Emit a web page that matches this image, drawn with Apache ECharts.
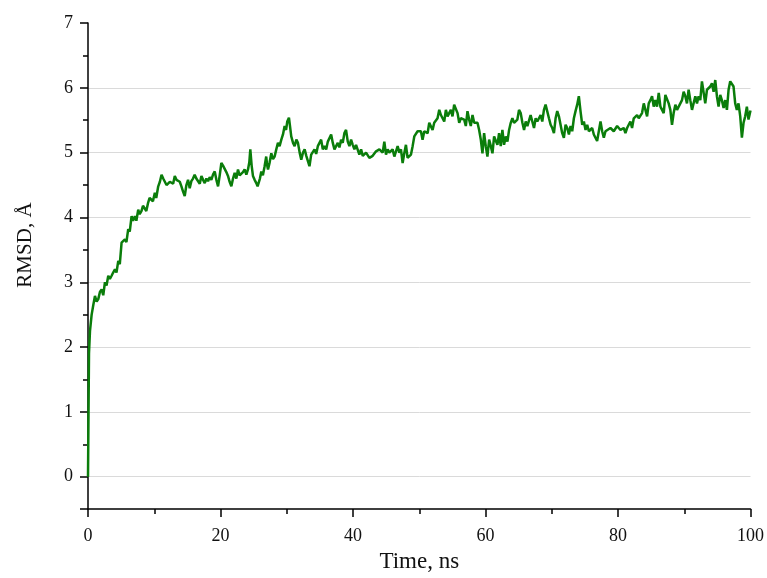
<!DOCTYPE html>
<html>
<head>
<meta charset="utf-8">
<script src="https://cdn.jsdelivr.net/npm/echarts@6/dist/echarts.min.js"></script>
<style>html,body{margin:0;padding:0;background:#fff;}#c{width:767px;height:578px;}</style>
</head>
<body>
<div id="c"></div>
<script>
const time = [0,0.15,0.3,0.55,0.8,1.05,1.3,1.55,1.8,2.06,2.3,2.56,2.8,3.06,3.3,3.56,3.8,4.07,4.3,4.57,4.8,5.07,5.3,5.57,5.8,6.07,6.3,6.58,6.8,7.08,7.3,7.58,7.8,8.08,8.3,8.58,8.8,9.08,9.3,9.59,9.8,10.09,10.3,10.6,10.85,11.1,11.35,11.6,11.85,12.1,12.35,12.6,12.85,13.1,13.35,13.6,13.85,14.1,14.35,14.6,14.85,15.1,15.35,15.6,15.85,16.1,16.35,
16.62,16.87,17.12,17.37,17.62,17.87,18.12,18.37,18.62,18.87,19.13,19.38,19.63,19.88,20.13,20.38,20.63,20.88,21.13,21.38,21.64,21.89,22.14,22.39,22.64,22.89,23.14,23.39,23.64,23.9,24.15,24.35,24.5,24.7,24.9,25.15,25.4,25.6,25.76,25.95,26.16,26.4,26.66,26.9,27.05,27.17,27.42,27.67,27.92,28.17,28.42,28.67,28.92,29.18,29.43,29.68,29.9,30.08,30.33,30.5,30.68,30.95,31.19,31.45,31.69,31.95,32.19,32.45,32.7,32.95,
33.18,33.43,33.69,33.94,34.19,34.44,34.69,34.94,35.19,35.44,35.69,35.95,36.2,36.45,36.7,36.95,37.2,37.45,37.7,37.95,38.2,38.45,38.7,38.95,39.21,39.46,39.71,39.96,40.21,40.46,40.71,40.96,41.22,41.47,41.72,41.97,42.22,42.47,42.72,42.97,43.22,43.48,43.73,43.98,44.23,44.48,44.73,44.98,45.23,45.48,45.73,45.98,46.24,46.49,46.74,46.99,47.24,47.49,47.74,47.99,48.24,48.49,48.75,49.0,49.25,49.5,49.75,
50.0,50.25,50.5,50.76,51.26,51.51,51.76,52.01,52.26,52.76,53.02,53.27,53.77,54.02,54.27,54.77,55.02,55.27,55.53,55.78,56.03,56.28,56.78,57.03,57.28,57.53,57.78,58.04,58.29,58.79,59.04,59.29,59.54,59.79,60.04,60.29,60.55,60.8,61.05,61.3,61.8,62.05,62.3,62.55,62.8,63.06,63.31,63.56,63.81,64.06,64.31,64.81,65.06,65.31,65.57,65.82,66.07,66.32,
66.81,67.32,67.57,67.82,68.32,68.57,68.82,69.07,69.32,69.58,69.83,70.08,70.33,70.58,70.83,71.08,71.33,71.58,71.83,72.09,72.34,72.59,72.84,73.09,73.34,73.59,73.84,74.09,74.34,74.6,74.85,75.1,75.35,75.6,75.85,76.1,76.35,76.6,76.85,77.1,77.36,77.61,77.86,78.11,78.36,78.86,79.36,79.87,80.12,80.37,80.87,81.12,81.37,81.62,81.87,82.12,82.38,82.88,
83.13,83.38,83.63,83.89,84.14,84.39,84.64,84.89,85.14,85.39,85.64,85.89,86.15,86.4,86.65,86.9,87.15,87.4,87.65,87.9,88.15,88.4,88.66,88.91,89.16,89.41,89.66,89.91,90.16,90.41,90.66,90.91,91.17,91.42,91.67,91.92,92.17,92.42,92.67,92.92,93.17,93.43,93.68,93.93,94.18,94.43,94.68,94.93,95.18,95.43,95.68,95.94,96.19,96.44,96.69,96.94,97.19,97.44,97.69,97.94,98.19,98.45,98.7,98.95,99.2,99.45,99.7,100];
const rmsd = [0,1.9,2.25,2.5,2.65,2.79,2.7,2.74,2.85,2.89,2.8,3.0,2.95,3.10,3.05,3.1,3.15,3.2,3.15,3.33,3.28,3.61,3.58,3.66,3.62,3.82,3.78,4.02,3.95,4.02,3.95,4.12,4.05,4.1,4.18,4.17,4.1,4.23,4.3,4.33,4.25,4.38,4.3,4.48,4.55,4.66,4.6,4.55,4.5,4.48,4.55,4.58,4.52,4.64,4.58,4.61,4.55,4.48,4.4,4.33,4.5,4.58,4.45,4.56,4.6,4.66,4.6,
4.58,4.52,4.64,4.58,4.53,4.6,4.56,4.62,4.58,4.66,4.71,4.58,4.48,4.65,4.84,4.8,4.82,4.7,4.64,4.55,4.48,4.6,4.69,4.6,4.74,4.65,4.64,4.7,4.74,4.66,4.74,4.85,5.05,4.8,4.64,4.58,4.53,4.48,4.46,4.6,4.71,4.65,4.79,4.94,4.8,4.74,4.85,4.99,4.9,4.94,5.05,5.15,5.1,5.2,5.28,5.41,5.35,5.48,5.54,5.4,5.25,5.15,5.1,5.2,5.15,5.0,4.89,5.0,5.05,4.95,
4.94,4.79,4.97,5.0,5.05,4.98,5.1,5.15,5.2,5.05,5.1,5.05,5.17,5.2,5.28,5.15,5.05,5.1,5.15,5.08,5.2,5.15,5.3,5.35,5.17,5.1,5.2,5.12,5.05,5.12,5.15,4.97,5.05,4.95,4.92,5.0,4.99,4.92,4.89,4.95,4.97,5.02,4.99,5.05,5.05,5.0,5.17,4.97,5.05,5.0,4.99,5.05,4.94,5.02,5.1,5.0,5.05,4.84,4.99,5.12,4.92,4.95,4.97,5.1,5.25,5.28,5.33,
5.33,5.33,5.2,5.33,5.3,5.46,5.43,5.35,5.46,5.53,5.66,5.58,5.48,5.66,5.56,5.66,5.56,5.74,5.76,5.61,5.46,5.53,5.51,5.41,5.64,5.51,5.41,5.58,5.46,5.46,5.35,5.2,4.99,5.3,5.1,4.94,5.2,5.1,4.99,5.25,5.12,5.3,5.1,5.35,5.12,5.25,5.17,5.35,5.46,5.53,5.46,5.51,5.66,5.61,5.46,5.35,5.48,5.41,
5.58,5.38,5.53,5.48,5.58,5.48,5.66,5.74,5.76,5.53,5.43,5.38,5.3,5.53,5.64,5.56,5.43,5.3,5.23,5.43,5.38,5.28,5.41,5.33,5.53,5.64,5.74,5.87,5.64,5.43,5.48,5.35,5.43,5.33,5.3,5.38,5.28,5.25,5.18,5.2,5.48,5.33,5.23,5.33,5.35,5.38,5.33,5.41,5.43,5.35,5.38,5.3,5.38,5.43,5.48,5.38,5.53,5.58,
5.53,5.51,5.61,5.76,5.66,5.56,5.76,5.81,5.87,5.71,5.81,5.71,5.92,5.71,5.66,5.61,5.89,5.92,5.76,5.66,5.43,5.61,5.74,5.66,5.66,5.76,5.81,5.94,5.87,5.76,5.97,5.81,5.66,5.64,5.87,5.76,5.87,5.81,6.1,6.07,5.76,5.97,5.94,6.02,6.07,5.94,6.12,5.87,5.71,5.89,5.81,5.69,5.81,5.66,5.97,6.1,6.1,6.02,5.76,5.66,5.76,5.56,5.23,5.46,5.56,5.71,5.51,5.65];

const chart = echarts.init(document.getElementById('c'));
const font = 'Liberation Serif, Times New Roman, serif';
chart.setOption({
  animation: false,
  backgroundColor: '#fff',
  grid: {left: 88, right: 15, top: 23, bottom: 68},
  xAxis: {
    type: 'value', min: 0, max: 100, interval: 20,
    name: 'Time, ns', nameLocation: 'middle', nameGap: 37,
    nameTextStyle: {fontFamily: font, fontSize: 23, color: '#111'},
    axisLine: {show: true, onZero: false, lineStyle: {color: '#000', width: 1.5}},
    axisTick: {show: true, inside: false, length: 8, lineStyle: {color: '#000', width: 1.5}},
    minorTick: {show: true, splitNumber: 2, length: 5, lineStyle: {color: '#000', width: 1.5}},
    axisLabel: {fontFamily: font, fontSize: 18, color: '#111', margin: 18},
    splitLine: {show: false}
  },
  yAxis: {
    type: 'value', min: -0.5, max: 7, minInterval: 1, maxInterval: 1, splitNumber: 8,
    name: 'RMSD, Å', nameLocation: 'middle', nameGap: 52,
    nameTextStyle: {fontFamily: font, fontSize: 21, color: '#111', padding: [0, 0, 0, 42]},
    axisLine: {show: true, onZero: false, lineStyle: {color: '#000', width: 1.5}},
    axisTick: {show: true, inside: false, length: 8, lineStyle: {color: '#000', width: 1.5}},
    minorTick: {show: true, splitNumber: 2, length: 5, lineStyle: {color: '#000', width: 1.5}},
    axisLabel: {fontFamily: font, fontSize: 18, color: '#111', margin: 15,
      formatter: v => (Math.abs(v - Math.round(v)) < 1e-9 ? String(Math.round(v)) : '')},
    splitLine: {show: true, showMinLine: false, showMaxLine: false, lineStyle: {color: '#dadada', width: 1}}
  },
  series: [{
    type: 'line',
    data: time.map((t, i) => [t, rmsd[i]]),
    showSymbol: false,
    symbol: 'none',
    lineStyle: {color: '#0a7d0a', width: 2.5},
    z: 3
  }]
});
</script>
</body>
</html>
